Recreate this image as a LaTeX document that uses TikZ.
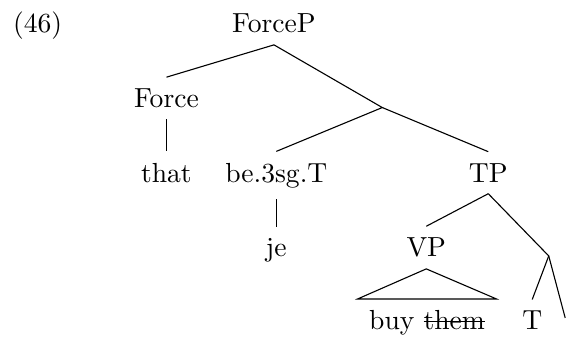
\documentclass[tikz,border=0pt]{standalone}
\newcommand{\crossout}[1]{\setbox0\hbox{#1}\rlap{\rule[.65ex]{\wd0}{.4pt}}\box0}
\begin{document}
\begin{tikzpicture}[lab/.style={inner sep=4pt, anchor=base}]
	\useasboundingbox (0,0) rectangle (7.21,4.33);
	\node[lab] (ex) at (0.48,3.91) {(46)};
	\node[lab] (forcep) at (3.49,3.91) {ForceP};
	\node[lab] (force) at (2.12,2.96) {Force};
	\coordinate (forcebar) at (4.87,2.96);
	\node[lab] (that) at (2.12,2.01) {that};
	\node[lab] (be) at (3.52,2.01) {be.3sg.T};
	\node[lab] (tp) at (6.22,2.01) {TP};
	\node[lab] (je) at (3.52,1.06) {je};
	\node[lab] (vp) at (5.43,1.06) {VP};
	\coordinate (tbar) at (6.99,1.07);
	\node[lab] (buy) at (5.44,0.13) {buy \crossout{them}};
	\node[lab] (t) at (6.78,0.13) {T};
	\coordinate (rest) at (7.2,0.28);

	\draw (forcep.south) -- (force.north);
	\draw (forcep.south) -- (forcebar) -- (be.north);
	\draw (forcebar) -- (tp.north);
	\draw (force.south) -- (that.north);
	\draw (be.south) -- (je.north);
	\draw (tp.south) -- (vp.north);
	\draw (tp.south) -- (tbar) -- (t.north);
	\draw (tbar) -- (rest);
	\draw (vp.south) -- (buy.north west) -- (buy.north east) -- cycle;
\end{tikzpicture}
\end{document}
